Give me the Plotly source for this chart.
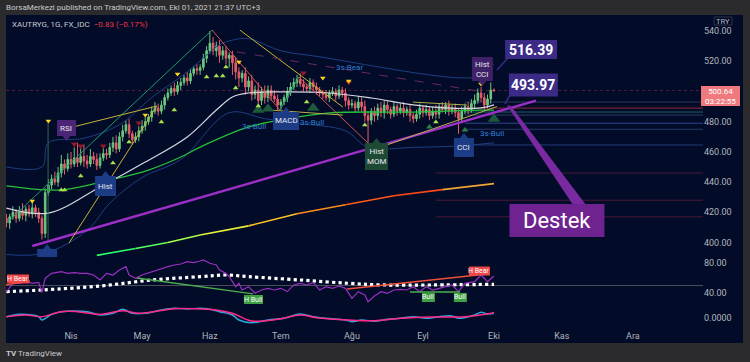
import plotly.graph_objects as go

# ---------------- data ----------------
month_labels = ["Nis", "May", "Haz", "Tem", "Ağu", "Eyl", "Eki", "Kas", "Ara"]
month_bars = [20, 42, 63, 85, 107, 129, 151, 172, 194]

first_open = 416
close = [413, 417, 420, 416, 421, 418, 422, 419, 423, 420,
         416, 406, 433, 438, 442, 440, 446, 452, 449, 455,
         452, 456, 453, 457, 454, 452, 457, 455, 451, 456,
         459, 458, 463, 466, 462, 470, 474, 478, 472, 468,
         470, 474, 477, 480, 483, 487, 489, 487, 491, 496,
         499, 502, 500, 504, 506, 509, 507, 512, 515, 514,
         516, 522, 527, 532, 527, 530, 524, 527, 522, 524,
         519, 513, 509, 512, 503, 507, 498, 501, 494, 500,
         496, 501, 497, 495, 491, 493, 496, 500, 503, 506,
         508, 505, 503, 502, 506, 503, 501, 499, 498, 496,
         499, 500, 497, 501, 499, 494, 491, 492, 489, 493,
         490, 484, 481, 487, 484, 489, 486, 491, 488, 485,
         490, 487, 489, 486, 488, 484, 482, 485, 489, 486,
         488, 484, 487, 485, 490, 488, 491, 487, 489, 486,
         482, 487, 490, 488, 492, 494, 499, 496, 491, 495,
         501, 500.64]
upper_wick = [3, 2, 4, 2, 3, 5, 2, 3, 4, 2,
              3, 2, 3, 4, 3, 5, 4, 6, 3, 4,
              5, 7, 10, 6, 8, 4, 5, 3, 4, 3,
              4, 3, 3, 4, 5, 3, 4, 3, 4, 2,
              3, 3, 4, 3, 2, 3, 4, 3, 3, 2,
              3, 2, 4, 3, 3, 2, 4, 3, 2, 3,
              2, 3, 3, 8, 4, 3, 4, 3, 3, 2,
              3, 4, 3, 2, 4, 3, 4, 3, 5, 3,
              4, 3, 3, 4, 3, 2, 2, 3, 3, 3,
              3, 4, 3, 2, 3, 2, 3, 2, 2, 3,
              2, 3, 2, 3, 2, 3, 2, 3, 2, 4,
              3, 4, 3, 2, 3, 3, 4, 3, 3, 2,
              3, 2, 3, 4, 2, 3, 2, 3, 3, 2,
              3, 2, 3, 4, 2, 3, 2, 3, 2, 3,
              3, 3, 2, 3, 3, 4, 3, 4, 3, 3,
              5, 1]
lower_wick = [3, 4, 2, 3, 2, 3, 4, 2, 3, 3,
              3, 4, 3, 2, 3, 2, 3, 3, 4, 2,
              3, 2, 3, 2, 4, 3, 2, 3, 3, 2,
              2, 3, 2, 3, 3, 2, 3, 2, 3, 3,
              2, 3, 2, 3, 2, 3, 2, 3, 2, 3,
              2, 2, 3, 2, 3, 2, 3, 2, 2, 3,
              3, 2, 3, 2, 3, 4, 5, 3, 4, 6,
              8, 5, 6, 3, 5, 3, 4, 3, 4, 3,
              4, 3, 3, 2, 4, 3, 2, 3, 3, 2,
              3, 2, 3, 2, 3, 2, 3, 2, 3, 2,
              3, 2, 3, 2, 3, 4, 3, 2, 3, 2,
              3, 4, 15, 3, 4, 3, 3, 4, 3, 3,
              2, 3, 2, 3, 2, 4, 3, 2, 3, 3,
              2, 3, 2, 3, 3, 2, 3, 3, 2, 3,
              10, 3, 2, 3, 2, 3, 2, 3, 4, 2,
              3, 1]

white_ma_bar = [0, 13, 29, 43, 56, 65, 70, 75, 85, 100, 113, 126, 136, 147, 151]
white_ma_val = [422.8, 419.5, 436.8, 453.3, 469.9, 487.7, 496.4, 499.0, 499.7, 499.0, 495.7, 491.1, 489.1, 489.1, 491.1]
green_ma_bar = [0, 17, 32, 44, 54, 60, 75, 85, 100, 126, 147, 151]
green_ma_val = [437.5, 434.8, 441.4, 448.0, 456.6, 463.2, 476.5, 481.1, 485.8, 486.4, 487.7, 487.7]
bb_up_bar = [0, 11, 13, 24, 35, 45, 56, 62, 66, 70, 75, 85, 97, 116, 131, 141, 146, 151]
bb_up_val = [450, 450, 466, 469, 478, 496, 513, 524, 531, 534, 535, 527, 523, 516, 511, 509, 510, 518]
bb_lo_bar = [0, 12, 25, 32, 42, 54, 69, 80, 90, 105, 112, 126, 140, 151]
bb_lo_val = [392, 393, 408, 426, 443, 455, 486, 482, 479, 474, 463, 463, 464, 466]
grad_ma_bar = [28, 40, 50, 60, 75, 90, 105, 120, 135, 151]
grad_ma_val = [391.5, 396, 400, 405, 411, 419, 425, 431, 435, 439]

support_bar = [8, 164]
support_val = [397.7, 494.0]

# trend lines: (bar0, price0, bar1, price1)
trend_green = [(0, 412.9, 63.7, 540.7), (84.7, 487.7, 90.6, 509.6)]
trend_red = [(63.7, 540.7, 84.7, 487.7), (90.6, 509.6, 112.6, 464.6)]
trend_yellow = [(72.3, 540.7, 104.2, 489.7), (20.6, 476.5, 46.6, 490.4), (19.4, 399.7, 46.6, 490.4)]
trend_olive = [(81.6, 487.7, 104.2, 484.4), (125.9, 493.0, 142.6, 491.0), (117.8, 464.6, 151.9, 490.0)]
bear_dash = (71.4, 526.2, 147, 500.0)
pivot_line = (12.9, 480.0, 12.9, 401.0)

level_val = [493.0, 489.0, 486.4, 484.4, 479.0, 475.0, 464.6, 446.0, 428.0, 417.0]
level_start = [142, 142, 142, 142, 142, 142, 142, 133, 133, 133]
last_price = 500.64

lime_up_bar = [17, 18, 23, 33, 38, 48, 52, 62, 65, 67, 68, 71, 78, 93, 111, 133]
lime_up_val = [434.8, 434.8, 444, 452.6, 466.6, 479.8, 487.7, 509.6, 510.3, 510.3, 516.2, 502.3, 490.4, 493, 477.8, 479.8]
dkg_small_bar = [131, 142]
dkg_small_val = [476.5, 474.5]
big_green_bar = [78, 81, 95, 151]
big_green_val = [487.7, 488.5, 489.1, 481.8]
yellow_dn_bar = [8, 13, 43, 53, 72, 98, 106, 147]
yellow_dn_val = [427.5, 480.5, 484.4, 511.6, 519.5, 508.9, 506.9, 505]
red_dn_bar = [21, 23, 30, 41, 92, 106]
red_dn_val = [465.2, 463.9, 463.9, 479.1, 512.3, 506.0]

rsi_bar = [0, 2, 4, 6, 8, 10, 11, 12, 14, 17, 19, 21, 23, 25, 27, 29, 31, 33, 35, 37,
           38, 40, 42, 45, 48, 50, 52, 54, 56, 58, 60, 61, 63, 65, 66, 68, 69, 70, 71, 72,
           73, 75, 77, 79, 81, 83, 85, 87, 89, 91, 93, 95, 97, 99, 101, 103, 105, 107, 109, 111,
           112, 114, 116, 118, 120, 122, 124, 126, 128, 130, 132, 134, 136, 138, 140, 142, 145, 147, 149, 151]
rsi_val = [41.8, 52.9, 52.9, 55.1, 52.9, 54.2, 40.4, 59.6, 66.2, 68.4, 66.2, 67.1, 66.2, 66.2, 64.0, 57.3, 66.2, 64.0, 70.7, 75.1,
           64.0, 59.6, 64.0, 68.4, 72.9, 75.1, 77.3, 78.7, 81.8, 80.4, 82.7, 84.0, 79.6, 77.3, 70.7, 66.2, 61.8, 55.1, 48.4, 52.9,
           44.0, 48.4, 39.6, 44.0, 46.2, 44.0, 46.2, 41.8, 50.7, 52.9, 50.7, 53.8, 44.0, 48.4, 46.2, 49.3, 46.2, 32.9, 41.8, 37.3,
           28.4, 36.0, 41.8, 39.6, 44.0, 44.9, 44.0, 48.4, 41.8, 48.4, 44.0, 46.2, 48.4, 50.7, 41.8, 52.9, 55.1, 64.0, 55.1, 62.7]
rsi_ma_bar = [0, 11, 29, 45, 60, 68, 75, 91, 106, 117, 132, 151]
rsi_ma_val = [41.8, 44.0, 49.3, 57.3, 61.8, 64.0, 61.8, 57.3, 52.9, 50.7, 50.7, 51.6]
rsi_mid = 50
div_hbear_left = (-0.4, 50.7, 7.3, 56.0)
div_hbull = (40.4, 60.0, 76.4, 38.7)
div_hbear_right = (105.5, 45.3, 146.0, 64.0)
div_bull = (125.0, 41.3, 140.5, 41.3)

macd_bar = [0, 4, 8, 10, 11, 14, 17, 21, 25, 29, 33, 36, 39, 43, 48, 52, 56, 60, 63, 66,
            70, 72, 76, 81, 86, 91, 95, 99, 105, 107, 110, 114, 118, 122, 126, 130, 134, 138, 140, 145,
            147, 149, 151]
macd_val = [1.3, 3.7, 3, 1.3, -2, 3.7, 6.3, 7, 6.3, 3, 4.7, 8.7, 4.7, 4.7, 8, 9.7, 9, 9.7, 8.7, 6.3,
            3, -2, -4.7, -2, -0.3, 4, 1.3, -0.3, -2, -3.7, -2, -3.3, -1.3, -0.3, 1.3, -0.3, 1.3, 2, -0.3, 3,
            5.7, 4, 4.7]
sig_bar = [0, 6, 11, 17, 22, 29, 36, 41, 52, 60, 65, 70, 76, 84, 91, 96, 106, 114, 122, 132, 142, 151]
sig_val = [1.3, 3, 1.3, 6.3, 6.3, 3.7, 7.3, 4.7, 9.3, 9, 8, 4.7, -3, -1.3, 3, 0.3, -2, -2.7, -0.3, 1, 1.3, 5.3]

# 500.00 is hidden behind the last-price tag in the reference
price_ticks = [400, 420, 440, 460, 480, 520, 540]

# ---------------- geometry / style ----------------
W, H = 750, 362
L, R, T, B = 6, 703, 15, 343
X0, X1 = -0.13, 215.73
Y_MAIN = (390.40, 550.66)
Y_RSI = (24, 88)
Y_MACD = (-11, 13)
D_MAIN = [0.2622, 1.0]
D_RSI = [0.1159, 0.2622]
D_MACD = [0.0427, 0.1159]
PPB = (R - L) / (X1 - X0)
PPU_MAIN = 1.51
PPU_RSI = 0.75

NAVY = "#020b28"
FRAME = "#2b2b2d"
TICK = dict(family="Roboto, Arial", size=9, color="#b2b5be")
GREEN_C = "#6cc97e"
RED_C = "#e95d69"


def pxx(px):
    return (px - L) / (R - L)


def pxy(py):
    return (B - py) / (B - T)


def box_path(xc, yc, wpx, hpx, ppu, ptr=None, ptr_px=5, tri_px=4):
    hw = wpx / 2 / PPB
    hh = hpx / 2 / ppu
    l, r, b, t = xc - hw, xc + hw, yc - hh, yc + hh
    tw = tri_px / PPB
    th = ptr_px / ppu
    if ptr == "down":
        return f"M{l},{t} L{r},{t} L{r},{b} L{xc+tw},{b} L{xc},{b-th} L{xc-tw},{b} L{l},{b} Z"
    if ptr == "up":
        return f"M{l},{b} L{r},{b} L{r},{t} L{xc+tw},{t} L{xc},{t+th} L{xc-tw},{t} L{l},{t} Z"
    return f"M{l},{b} L{r},{b} L{r},{t} L{l},{t} Z"


opens = [first_open] + close[:-1]
highs = [max(o, c) + u for o, c, u in zip(opens, close, upper_wick)]
lows = [min(o, c) - d for o, c, d in zip(opens, close, lower_wick)]
bars = list(range(len(close)))

fig = go.Figure()


def line(xs, ys, color, width=1.0, dash=None, yaxis="y", shape="linear"):
    fig.add_trace(go.Scatter(x=xs, y=ys, mode="lines", yaxis=yaxis,
                             line=dict(color=color, width=width, dash=dash, shape=shape),
                             hoverinfo="skip", showlegend=False))


# bands and MAs
line(bb_up_bar, bb_up_val, "#1d3f82", 1.0, shape="spline")
line(bb_lo_bar, bb_lo_val, "#1d3f82", 1.0, shape="spline")

grad_colors = ["#2dff6a", "#5cff5c", "#a6ff4a", "#e6f03a", "#ffc02a", "#ff8a1f", "#ff5a1a", "#ff4a18", "#f0a535"]
for i in range(len(grad_ma_bar) - 1):
    line(grad_ma_bar[i:i + 2], grad_ma_val[i:i + 2], grad_colors[i], 1.6)

line(green_ma_bar, green_ma_val, "#25c23a", 1.3, shape="spline")
line(white_ma_bar, white_ma_val, "#d6d8e0", 1.2, shape="spline")
line(support_bar, support_val, "#9b2fc6", 2.4)

for (a, b_, c, d) in trend_green:
    line([a, c], [b_, d], "#1f9a6e", 1.0)
for (a, b_, c, d) in trend_red:
    line([a, c], [b_, d], "#d9534f", 1.0)
for (a, b_, c, d) in trend_yellow:
    line([a, c], [b_, d], "#c9b23a", 1.0)
for (a, b_, c, d) in trend_olive:
    line([a, c], [b_, d], "#b4b04a", 1.0)
line([bear_dash[0], bear_dash[2]], [bear_dash[1], bear_dash[3]], "#6b2a5c", 1.0, dash="dash")
line([pivot_line[0], pivot_line[2]], [pivot_line[1], pivot_line[3]], "#2f6a4c", 1.0)

# candles
fig.add_trace(go.Candlestick(
    x=bars, open=opens, high=highs, low=lows, close=close,
    increasing=dict(line=dict(color=GREEN_C, width=1), fillcolor=GREEN_C),
    decreasing=dict(line=dict(color=RED_C, width=1), fillcolor=RED_C),
    whiskerwidth=0, hoverinfo="skip", showlegend=False, yaxis="y"))


def markers(xs, ys, sym, color, size):
    fig.add_trace(go.Scatter(x=xs, y=ys, mode="markers", yaxis="y",
                             marker=dict(symbol=sym, color=color, size=size, line=dict(width=0)),
                             hoverinfo="skip", showlegend=False))


markers(big_green_bar, big_green_val, "triangle-up", "#1c5a3b", 11)
markers(lime_up_bar, lime_up_val, "triangle-up", "#a8e04a", 5)
markers(dkg_small_bar, dkg_small_val, "triangle-up", "#2e7d4a", 6)
markers(red_dn_bar, red_dn_val, "triangle-down", "#8a1c2c", 6)
markers(yellow_dn_bar, yellow_dn_val, "triangle-down", "#ffd21f", 5)

# RSI pane
line(rsi_ma_bar, rsi_ma_val, "#ffffff", 3.2, dash="dot", yaxis="y2", shape="spline")
line(rsi_bar, rsi_val, "#9a30c0", 1.2, yaxis="y2")
for seg, col in [(div_hbear_left, "#f0503a"), (div_hbull, "#4caf50"),
                 (div_hbear_right, "#f0503a"), (div_bull, "#4caf50")]:
    line([seg[0], seg[2]], [seg[1], seg[3]], col, 1.3, yaxis="y2")

# MACD pane
line(macd_bar, macd_val, "#2aa8e0", 1.5, yaxis="y3", shape="spline")
line(sig_bar, sig_val, "#ff2a86", 1.5, yaxis="y3", shape="spline")

shapes = []
annotations = []

# backgrounds
shapes.append(dict(type="rect", xref="paper", yref="paper", x0=0, x1=pxx(743), y0=0, y1=1,
                   fillcolor=NAVY, line=dict(width=0), layer="below"))

# level lines
level_colors = ["#2c3a5a", "#8c2a3c", "#22605e", "#2f3f5f", "#2a4a8a", "#263a66", "#1e3c7a",
                "#4a1a3a", "#4a1a3a", "#4a1a3a"]
for v, s, c in zip(level_val, level_start, level_colors):
    shapes.append(dict(type="line", xref="x", yref="y", x0=s, x1=X1, y0=v, y1=v,
                       line=dict(color=c, width=1), layer="below"))
shapes.append(dict(type="line", xref="x", yref="y", x0=X0, x1=X1, y0=last_price, y1=last_price,
                   line=dict(color="rgba(150,45,70,0.55)", width=1, dash="dot"), layer="below"))
shapes.append(dict(type="line", xref="x", yref="y2", x0=X0, x1=X1, y0=rsi_mid, y1=rsi_mid,
                   line=dict(color="#4a4e5c", width=1), layer="below"))


def label(xc, yc, w, h, text, fill, ptr=None, yref="y", ppu=PPU_MAIN, size=8, color="#e6e6ee"):
    shapes.append(dict(type="path", xref="x", yref=yref, path=box_path(xc, yc, w, h, ppu, ptr),
                       fillcolor=fill, line=dict(width=0)))
    if text:
        annotations.append(dict(x=xc, y=yc, xref="x", yref=yref, text=text, showarrow=False,
                                xanchor="center", yanchor="middle",
                                font=dict(family="Roboto, Arial", size=size, color=color)))


def ptext(px, py, text, size=8, color="#c8cad0", xanchor="center"):
    annotations.append(dict(x=pxx(px), y=pxy(py), xref="paper", yref="paper", text=text,
                            showarrow=False, xanchor=xanchor, yanchor="middle",
                            font=dict(family="Roboto, Arial", size=size, color=color)))


label(18.6, 475.8, 19, 16, "RSI", "#4b2676", "down")
label(30.7, 437.4, 21, 20, "Hist", "#1d3c86", "up")
label(12.6, 391.0, 20, 14, "", "#1d3c86", "up")
label(86.6, 480.5, 26, 18, "MACD", "#1d3c86", "up")
label(114.6, 457.0, 23, 27, "Hist<br>MOM", "#1e4a35", "up")
label(141.7, 462.9, 20, 19, "CCI", "#1d3c86", "up")
label(147.4, 514.9, 21, 24, "Hist<br>CCI", "#3e2166", "down")

# price callouts
shapes.append(dict(type="line", xref="x", yref="y", x0=155.6, y0=522.9, x1=151.9, y1=514.2,
                   line=dict(color="#3b2a86", width=1.5)))
shapes.append(dict(type="line", xref="x", yref="y", x0=156.3, y0=499.0, x1=154.4, y1=491.7,
                   line=dict(color="#3b2a86", width=1.5)))
shapes.append(dict(type="path", xref="x", yref="y",
                   path="M155.0,491.06 L156.3,490.4 L179.5,424.8 L176.1,422.8 Z",
                   fillcolor="#7a2aa0", line=dict(width=0)))
label(162.5, 527.8, 52, 19, "<b>516.39</b>", "#3b2a86", size=14, color="#ffffff")
label(163.2, 504.3, 49, 23, "<b>493.97</b>", "#3b2a86", size=14, color="#ffffff")
label(170.5, 414.6, 95, 33, "Destek", "#6e2390", size=22, color="#ffffff")

# small texts
for (xb, yp, t) in [(76.7, 476.5, "3s-Bull"), (94.6, 479.8, "3s-Bull"), (150.4, 472.5, "3s-Bull"),
                    (106.4, 515.6, "3s-Bear")]:
    annotations.append(dict(x=xb, y=yp, xref="x", yref="y", text=t, showarrow=False,
                            font=dict(family="Roboto, Arial", size=8, color="#2f7fd8")))

# RSI labels
label(3.6, 58.7, 22, 9, "H Bear", "#f04848", yref="y2", ppu=PPU_RSI, size=7, color="#ffffff")
label(146.5, 69.3, 21, 9, "H Bear", "#f04848", yref="y2", ppu=PPU_RSI, size=7, color="#ffffff")
label(76.5, 31.3, 19, 9, "H Bull", "#3ea043", yref="y2", ppu=PPU_RSI, size=7, color="#ffffff")
label(130.7, 34.0, 13, 9, "Bull", "#3ea043", yref="y2", ppu=PPU_RSI, size=7, color="#ffffff")
label(140.6, 34.0, 13, 9, "Bull", "#3ea043", yref="y2", ppu=PPU_RSI, size=7, color="#ffffff")

# price tag on axis
shapes.append(dict(type="rect", xref="paper", yref="paper", x0=pxx(701), x1=pxx(740),
                   y0=pxy(106), y1=pxy(86), fillcolor="#ef7a7e", line=dict(width=0)))
ptext(720.5, 96, "500.64<br>03:22:55", size=8, color="#ffffff")
# TRY tag
shapes.append(dict(type="rect", xref="paper", yref="paper", x0=pxx(714), x1=pxx(732),
                   y0=pxy(25), y1=pxy(17), fillcolor=NAVY, line=dict(color="#2c3348", width=1)))
ptext(723, 21, "TRY", size=7.5, color="#b2b5be")

# header / footer
ptext(4, 7.5, "BorsaMerkezi published on TradingView.com, Eki 01, 2021 21:37 UTC+3",
      size=8, xanchor="left")
ptext(10, 24.5, "XAUTRYG, 1G, FX_IDC  <span style='color:#f23645'>−0.83 (−0.17%)</span>",
      size=8, xanchor="left")
ptext(4, 353, "<b>TV</b> TradingView", size=8, xanchor="left")

fig.update_layout(
    width=W, height=H,
    margin=dict(l=L, r=W - R, t=T, b=H - B),
    paper_bgcolor=FRAME, plot_bgcolor=NAVY,
    showlegend=False,
    xaxis=dict(domain=[0, 1], range=[X0, X1], anchor="y3", tickvals=month_bars, ticktext=month_labels,
               showgrid=False, zeroline=False, showline=False, ticks="", tickfont=TICK,
               rangeslider=dict(visible=False), fixedrange=True),
    yaxis=dict(domain=D_MAIN, range=list(Y_MAIN), anchor="x", side="right", tickvals=price_ticks,
               ticktext=[f"{v:.2f}" for v in price_ticks], showgrid=False, zeroline=False,
               showline=False, ticks="", tickfont=TICK),
    yaxis2=dict(domain=D_RSI, range=list(Y_RSI), anchor="x", side="right", tickvals=[40, 80],
                ticktext=["40.00", "80.00"], showgrid=False, zeroline=False, showline=False,
                ticks="", tickfont=TICK),
    yaxis3=dict(domain=D_MACD, range=list(Y_MACD), anchor="x", side="right", tickvals=[0],
                ticktext=["0.0000"], showgrid=False, zeroline=False, showline=False,
                ticks="", tickfont=TICK),
    shapes=shapes, annotations=annotations,
)

fig.write_html("out.html")
